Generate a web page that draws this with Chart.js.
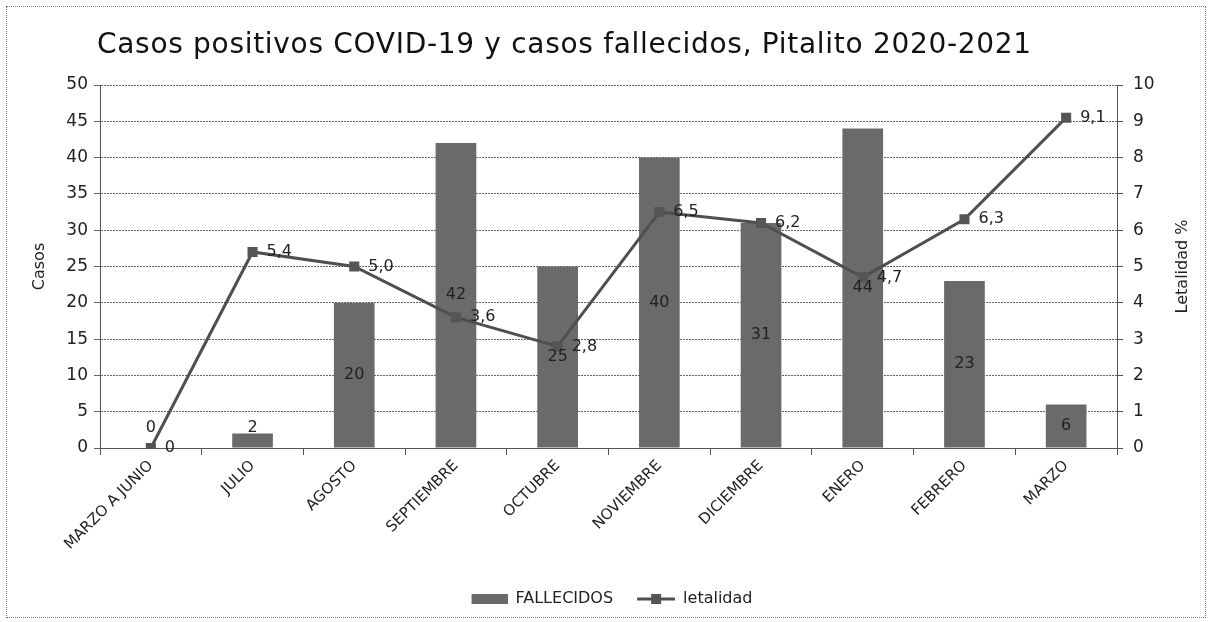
<!DOCTYPE html>
<html>
<head>
<meta charset="utf-8">
<script src="https://cdn.jsdelivr.net/npm/chart.js@4.4.1/dist/chart.umd.min.js"></script>
<style>
  html, body { margin: 0; padding: 0; background: #fff; }
  #wrap { position: relative; width: 1212px; height: 622px; }
  #frame { position: absolute; left: 6px; top: 6px; width: 1198px; height: 610px; border: 1px dotted #777; pointer-events: none; }
  #title { position: absolute; left: 97px; top: 27px; font: 28px "DejaVu Sans", sans-serif; letter-spacing: 0.7px; color: #111; white-space: nowrap; }
  canvas { position: absolute; left: 0; top: 0; }
</style>
</head>
<body>
<div id="wrap">
  <canvas id="c" width="1212" height="622"></canvas>
  <div id="frame"></div>
  <div id="title">Casos positivos COVID-19 y casos fallecidos, Pitalito 2020-2021</div>
</div>
<script>
const categories = ["MARZO A JUNIO", "JULIO", "AGOSTO", "SEPTIEMBRE", "OCTUBRE", "NOVIEMBRE", "DICIEMBRE", "ENERO", "FEBRERO", "MARZO"];
const fallecidos = [0, 2, 20, 42, 25, 40, 31, 44, 23, 6];
const letalidad = [0, 5.4, 5.0, 3.6, 2.8, 6.5, 6.2, 4.7, 6.3, 9.1];
const seriesNames = ["FALLECIDOS", "letalidad"];
const axisTitles = ["Casos", "Letalidad %"];

const BAR_COLOR = "#6a6a6a";
const LINE_COLOR = "#4f4f4f";
const FONT = '"DejaVu Sans", Verdana, sans-serif';
const SW = 48;

function fmt(v) { return v === 0 ? "0" : v.toFixed(1).replace(".", ","); }

function swatchBar() {
  const c = document.createElement("canvas"); c.width = SW; c.height = 10;
  const g = c.getContext("2d"); g.fillStyle = BAR_COLOR; g.fillRect(SW - 36, 0, 36, 10); return c;
}
function swatchLine() {
  const c = document.createElement("canvas"); c.width = SW; c.height = 10;
  const g = c.getContext("2d"); g.strokeStyle = LINE_COLOR; g.lineWidth = 3;
  g.beginPath(); g.moveTo(SW - 38, 5); g.lineTo(SW, 5); g.stroke();
  g.fillStyle = "#555"; g.fillRect(SW - 24, 0, 10, 10); return c;
}

const valueLabels = {
  id: "valueLabels",
  afterDatasetsDraw(chart) {
    const ctx = chart.ctx;
    ctx.save();
    ctx.font = "16px " + FONT;
    ctx.fillStyle = "#222";
    ctx.textBaseline = "middle";
    const bm = chart.getDatasetMeta(0);
    bm.data.forEach((el, i) => {
      const y = Math.min((el.y + el.base) / 2, el.base - 20);
      ctx.textAlign = "center";
      ctx.fillText(String(fallecidos[i]), el.x, y);
    });
    const lm = chart.getDatasetMeta(1);
    lm.data.forEach((el, i) => {
      ctx.textAlign = "left";
      ctx.fillText(fmt(letalidad[i]), el.x + 14, el.y);
    });
    // right axis title, reading bottom-to-top like the reference
    const s = chart.scales.y1;
    ctx.save();
    ctx.translate(s.right - 29, (chart.chartArea.top + chart.chartArea.bottom) / 2);
    ctx.rotate(-Math.PI / 2);
    ctx.textAlign = "center";
    ctx.font = "16px " + FONT;
    ctx.fillText(axisTitles[1], 0, 0);
    ctx.restore();
    ctx.restore();
  }
};

new Chart(document.getElementById("c"), {
  data: {
    labels: categories,
    datasets: [
      {
        type: "bar", label: seriesNames[0], data: fallecidos, yAxisID: "y",
        backgroundColor: BAR_COLOR, barPercentage: 0.4, categoryPercentage: 1, order: 1
      },
      {
        type: "line", label: seriesNames[1], data: letalidad, yAxisID: "y1",
        borderColor: LINE_COLOR, borderWidth: 3, pointStyle: "rect", pointRadius: 5,
        pointBackgroundColor: "#555", pointBorderColor: "#555", tension: 0, order: 0
      }
    ]
  },
  options: {
    responsive: false, animation: false,
    layout: { padding: { top: 85, bottom: 5, left: 0, right: 0 } },
    plugins: {
      title: { display: false },
      tooltip: { enabled: false },
      legend: {
        position: "bottom",
        labels: {
          usePointStyle: true, pointStyleWidth: SW, color: "#222",
          font: { family: FONT, size: 16 }, padding: 14,
          generateLabels() {
            return [
              { text: seriesNames[0], pointStyle: swatchBar(), datasetIndex: 0, fontColor: "#222", lineWidth: 0, strokeStyle: "transparent", fillStyle: BAR_COLOR },
              { text: seriesNames[1], pointStyle: swatchLine(), datasetIndex: 1, fontColor: "#222", lineWidth: 0, strokeStyle: "transparent", fillStyle: LINE_COLOR }
            ];
          }
        }
      }
    },
    scales: {
      x: {
        afterFit(s) { s.height = 129; },
        grid: { offset: true, drawOnChartArea: false, tickLength: 7, color: "#555" },
        border: { color: "#555", width: 1 },
        ticks: { minRotation: 45, maxRotation: 45, color: "#222", font: { family: FONT, size: 15 }, padding: 2 }
      },
      y: {
        position: "left", min: 0, max: 50,
        afterFit(s) { s.width = 100; },
        ticks: { stepSize: 5, color: "#222", font: { family: FONT, size: 17 }, padding: 6 },
        grid: { color: "#666", tickLength: 6, lineWidth: 1 },
        border: { color: "#555", dash: [2, 1] },
        title: { display: true, text: axisTitles[0], color: "#222", font: { family: FONT, size: 16 }, padding: { top: 30, bottom: 0 } }
      },
      y1: {
        position: "right", min: 0, max: 10,
        afterFit(s) { s.width = 95; },
        ticks: { stepSize: 1, color: "#222", font: { family: FONT, size: 17 }, padding: 10 },
        grid: { drawOnChartArea: false, color: "#555", tickLength: 6 },
        border: { color: "#555" }
      }
    }
  },
  plugins: [valueLabels]
});
</script>
</body>
</html>
